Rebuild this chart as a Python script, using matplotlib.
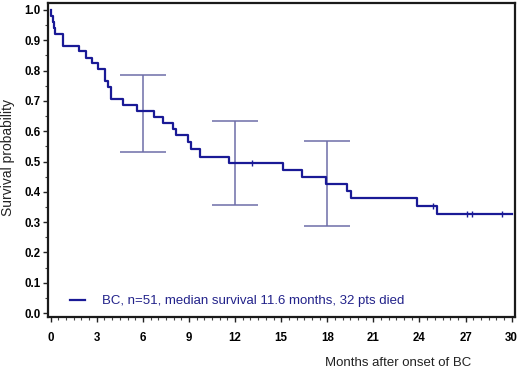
import matplotlib
matplotlib.use("Agg")
import matplotlib.pyplot as plt
from matplotlib.ticker import MultipleLocator
import numpy as np

# ---- data ----
times = [0, 0.05, 0.15, 0.22, 0.30, 0.82, 1.86, 2.30, 2.69, 3.06, 3.53, 3.75, 3.90,
         4.68, 5.60, 6.74, 7.33, 7.93, 8.13, 8.96, 9.13, 9.71, 11.62, 15.13, 16.33,
         17.90, 19.30, 19.52, 23.81, 25.15]
surv = [1.0, 0.980, 0.961, 0.941, 0.922, 0.882, 0.863, 0.843, 0.824, 0.804, 0.765, 0.745,
        0.706, 0.686, 0.667, 0.647, 0.627, 0.608, 0.588, 0.564, 0.540, 0.516, 0.494,
        0.472, 0.448, 0.425, 0.403, 0.378, 0.352, 0.328]
end_time = 30
censor_times = [13.08, 24.85, 27.1, 27.4, 29.34]
ci_x = [6, 12, 18]
ci_low = [0.530, 0.355, 0.287]
ci_high = [0.787, 0.635, 0.567]
legend_label = "BC, n=51, median survival 11.6 months, 32 pts died"
xlabel = "Months after onset of BC"
ylabel = "Survival probability"
xticks = [0, 3, 6, 9, 12, 15, 18, 21, 24, 27, 30]
yticks = [0.0, 0.1, 0.2, 0.3, 0.4, 0.5, 0.6, 0.7, 0.8, 0.9, 1.0]

plt.rcParams['font.family'] = ['Liberation Sans', 'DejaVu Sans']

W, H = 520, 371
fig = plt.figure(figsize=(W / 100, H / 100), dpi=100)
ax = fig.add_axes([47.7 / W, 1 - 317 / H, (515 - 47.7) / W, (317 - 3) / H])

curve_color = '#1a1a96'
ci_color = '#6e6ea8'

# CI error bars
mid = [(l + h) / 2 for l, h in zip(ci_low, ci_high)]
half = [(h - l) / 2 for l, h in zip(ci_low, ci_high)]
ax.errorbar(ci_x, mid, yerr=[half, half],
            fmt='none', ecolor=ci_color, elinewidth=1.1, capsize=16.5, capthick=1.1, zorder=2)

# KM curve
st_x = times + [end_time]
st_y = surv + [surv[-1]]
line, = ax.step(st_x, st_y, where='post', color=curve_color, lw=1.6, zorder=3,
                label=legend_label)

# censor marks
cens_y = [surv[np.searchsorted(times, t, side='right') - 1] for t in censor_times]
ax.plot(censor_times, cens_y, linestyle='none', marker='|', markersize=4,
        markeredgewidth=1.0, color=curve_color, zorder=4)

ax.set_xlim(-0.195, 30.215)
ax.set_ylim(-0.013, 1.023)
ax.set_xticks(xticks)
ax.set_yticks(yticks)
ax.set_xticklabels([str(v) for v in xticks])
ax.set_yticklabels([f"{v:.1f}" for v in yticks])
ax.xaxis.set_minor_locator(MultipleLocator(0.5))
ax.yaxis.set_minor_locator(MultipleLocator(0.05))
ax.tick_params(which='major', direction='out', length=3.5, width=1.0, labelsize=8.3,
               color='#222222')
ax.tick_params(which='minor', direction='out', length=2.0, width=0.8, color='#444444')
ax.tick_params(axis='x', which='major', pad=7.0)
ax.tick_params(axis='y', which='major', pad=1.5)
for lbl in ax.get_xticklabels() + ax.get_yticklabels():
    lbl.set_fontweight('bold')

for sp in ax.spines.values():
    sp.set_linewidth(1.6)
    sp.set_color('#1a1a1a')

ax.set_xlabel(xlabel, fontsize=9.5, ha='left', va='center', color='#222222')
ax.xaxis.set_label_coords((325 - 47.7) / 467.3, (317 - 363) / 314)
ax.set_ylabel(ylabel, fontsize=10, va='center', color='#222222')
ax.yaxis.set_label_coords((8 - 47.7) / 467.3, (317 - 157) / 314)

leg = ax.legend(handles=[line], loc='center left',
                bbox_to_anchor=(22 / 467.3, 16 / 314), frameon=False,
                borderpad=0, borderaxespad=0, handlelength=1.15, handletextpad=1.3,
                fontsize=9.5, labelcolor='#22228a')

fig.savefig('out.png', dpi=100)
